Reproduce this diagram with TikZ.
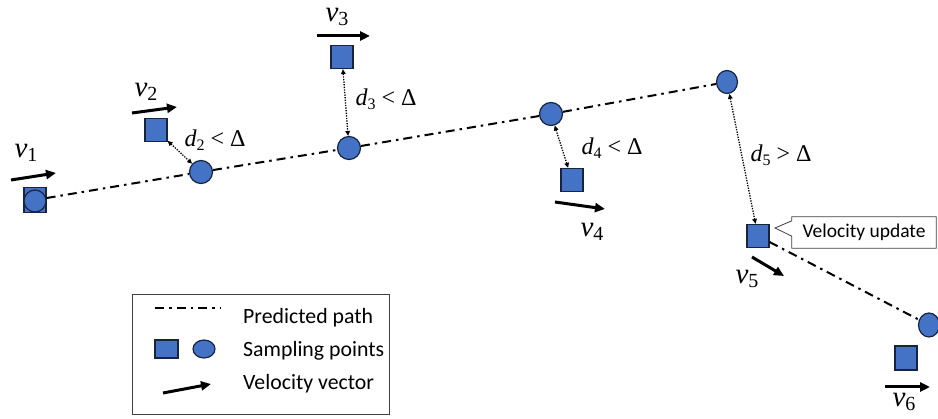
\documentclass[tikz,border=0pt]{standalone}
\usepackage{fontspec}
\setmainfont{Carlito}
\newfontfamily\tms{Liberation Serif}
\usetikzlibrary{arrows.meta,shapes.geometric}
\definecolor{fillblue}{HTML}{4472C4}
\definecolor{edgeblue}{HTML}{17233F}
\newcommand\vlab[1]{{\tms\fontsize{29}{29}\selectfont\itshape v\raisebox{-0.35ex}{\fontsize{20}{20}\selectfont\upshape #1}}}
\newcommand\dlab[2]{{\tms\fontsize{24}{24}\selectfont\itshape d\raisebox{-0.35ex}{\fontsize{16}{16}\selectfont\upshape #1}\upshape\ #2\ Δ}}
\tikzset{
  sq/.style={draw=edgeblue, fill=fillblue, line width=1.2pt, rectangle, minimum width=22pt, minimum height=23pt, inner sep=0pt},
  circ/.style={draw=edgeblue, fill=fillblue, line width=1.2pt, ellipse, minimum width=23pt, minimum height=23pt, inner sep=0pt},
  predpath/.style={line width=2pt, dash pattern=on 9pt off 5pt on 2.5pt off 5pt},
  vel/.style={line width=3pt, -{Triangle[length=10pt,width=9pt]}},
  dist/.style={line width=1.3pt, dash pattern=on 1.3pt off 1.3pt, {Triangle[length=5pt,width=4.5pt]}-{Triangle[length=5pt,width=4.5pt]}},
  lbl/.style={inner sep=0pt},
  legtext/.style={anchor=base west, inner sep=0pt, font=\fontsize{21.8}{23}\selectfont},
}
\begin{document}
\begin{tikzpicture}[x=1pt,y=-1pt]
\useasboundingbox (0,0) rectangle (938,419);
% sampling points
\node[sq, minimum height=25pt] (s1) at (35,200) {};
\node[circ, minimum width=22pt, minimum height=22pt] (c1) at (35,201) {};
\node[sq] (s2) at (156,130) {};
\node[circ] (c2) at (201,172) {};
\node[sq] (s3) at (342,57) {};
\node[circ] (c3) at (349,148) {};
\node[circ] (c4) at (551,114) {};
\node[sq] (s4) at (572,180) {};
\node[circ, minimum width=21pt] (c5) at (727,82) {};
\node[sq] (s5) at (758,236) {};
\node[circ, minimum width=21pt, minimum height=24pt] (c6) at (929,325) {};
\node[sq, minimum height=24pt] (s6) at (906,358) {};
% predicted path
\draw[predpath] (s1) -- (c2);
\draw[predpath] (c2) -- (c3);
\draw[predpath] (c3) -- (c4);
\draw[predpath] (c4) -- (c5);
\draw[predpath] (s5) -- (c6);
% distances
\draw[dist] (s2) -- (c2);
\draw[dist] (s3) -- (c3);
\draw[dist] (c4) -- (s4);
\draw[dist] (c5) -- (s5);
\node[lbl] (d2) at (215,140) {\dlab{2}{<}};
\node[lbl] (d3) at (386,99) {\dlab{3}{<}};
\node[lbl] (d4) at (612,148) {\dlab{4}{<}};
\node[lbl] (d5) at (781,155) {\dlab{5}{>}};
% velocity vectors
\coordinate (v1a) at (11,180); \coordinate (v1b) at (56,173);
\coordinate (v2a) at (132,113); \coordinate (v2b) at (177,107);
\coordinate (v3a) at (317,36); \coordinate (v3b) at (370,36);
\coordinate (v4a) at (555,202); \coordinate (v4b) at (605,209);
\coordinate (v5a) at (752,257); \coordinate (v5b) at (784,276);
\coordinate (v6a) at (885,387); \coordinate (v6b) at (930,387);
\draw[vel] (v1a) -- (v1b);
\draw[vel] (v2a) -- (v2b);
\draw[vel] (v3a) -- (v3b);
\draw[vel] (v4a) -- (v4b);
\draw[vel] (v5a) -- (v5b);
\draw[vel] (v6a) -- (v6b);
\node[lbl] (l1) at (26,153) {\vlab{1}};
\node[lbl] (l2) at (146,92) {\vlab{2}};
\node[lbl] (l3) at (337,17) {\vlab{3}};
\node[lbl] (l4) at (592,232) {\vlab{4}};
\node[lbl] (l5) at (747,279) {\vlab{5}};
\node[lbl] (l6) at (904,402) {\vlab{6}};
% callout
\coordinate (tip) at (775,228);
\node[inner sep=0pt, minimum width=144pt, minimum height=31pt] (vu) at (864,232.5) {};
\draw[line width=0.8pt, black!75, fill=white]
  ([yshift=-4pt]vu.north west) -- (vu.north west) -- (vu.north east) -- (vu.south east) -- (vu.south west)
  -- ([yshift=12pt]vu.south west) -- (tip) -- cycle;
\node[inner sep=0pt, font=\fontsize{19.5}{21}\selectfont] (vut) at (vu) {Velocity update};
% legend
\node[draw=black!75, line width=0.8pt, minimum width=257pt, minimum height=120pt, inner sep=0pt] (leg) at (260.5,354) {};
\coordinate (lpa) at (155,308); \coordinate (lpb) at (221,308);
\draw[predpath] (lpa) -- (lpb);
\node[sq, minimum width=23pt, minimum height=18pt] (ls) at (166.5,349) {};
\node[circ, minimum width=22pt, minimum height=18pt] (lc) at (204,349) {};
\coordinate (lva) at (163,393); \coordinate (lvb) at (211,384);
\draw[vel] (lva) -- (lvb);
\node[legtext] (t1) at (243,324) {Predicted path};
\node[legtext] (t2) at (243,357) {Sampling points};
\node[legtext] (t3) at (243,390) {Velocity vector};
\end{tikzpicture}
\end{document}
